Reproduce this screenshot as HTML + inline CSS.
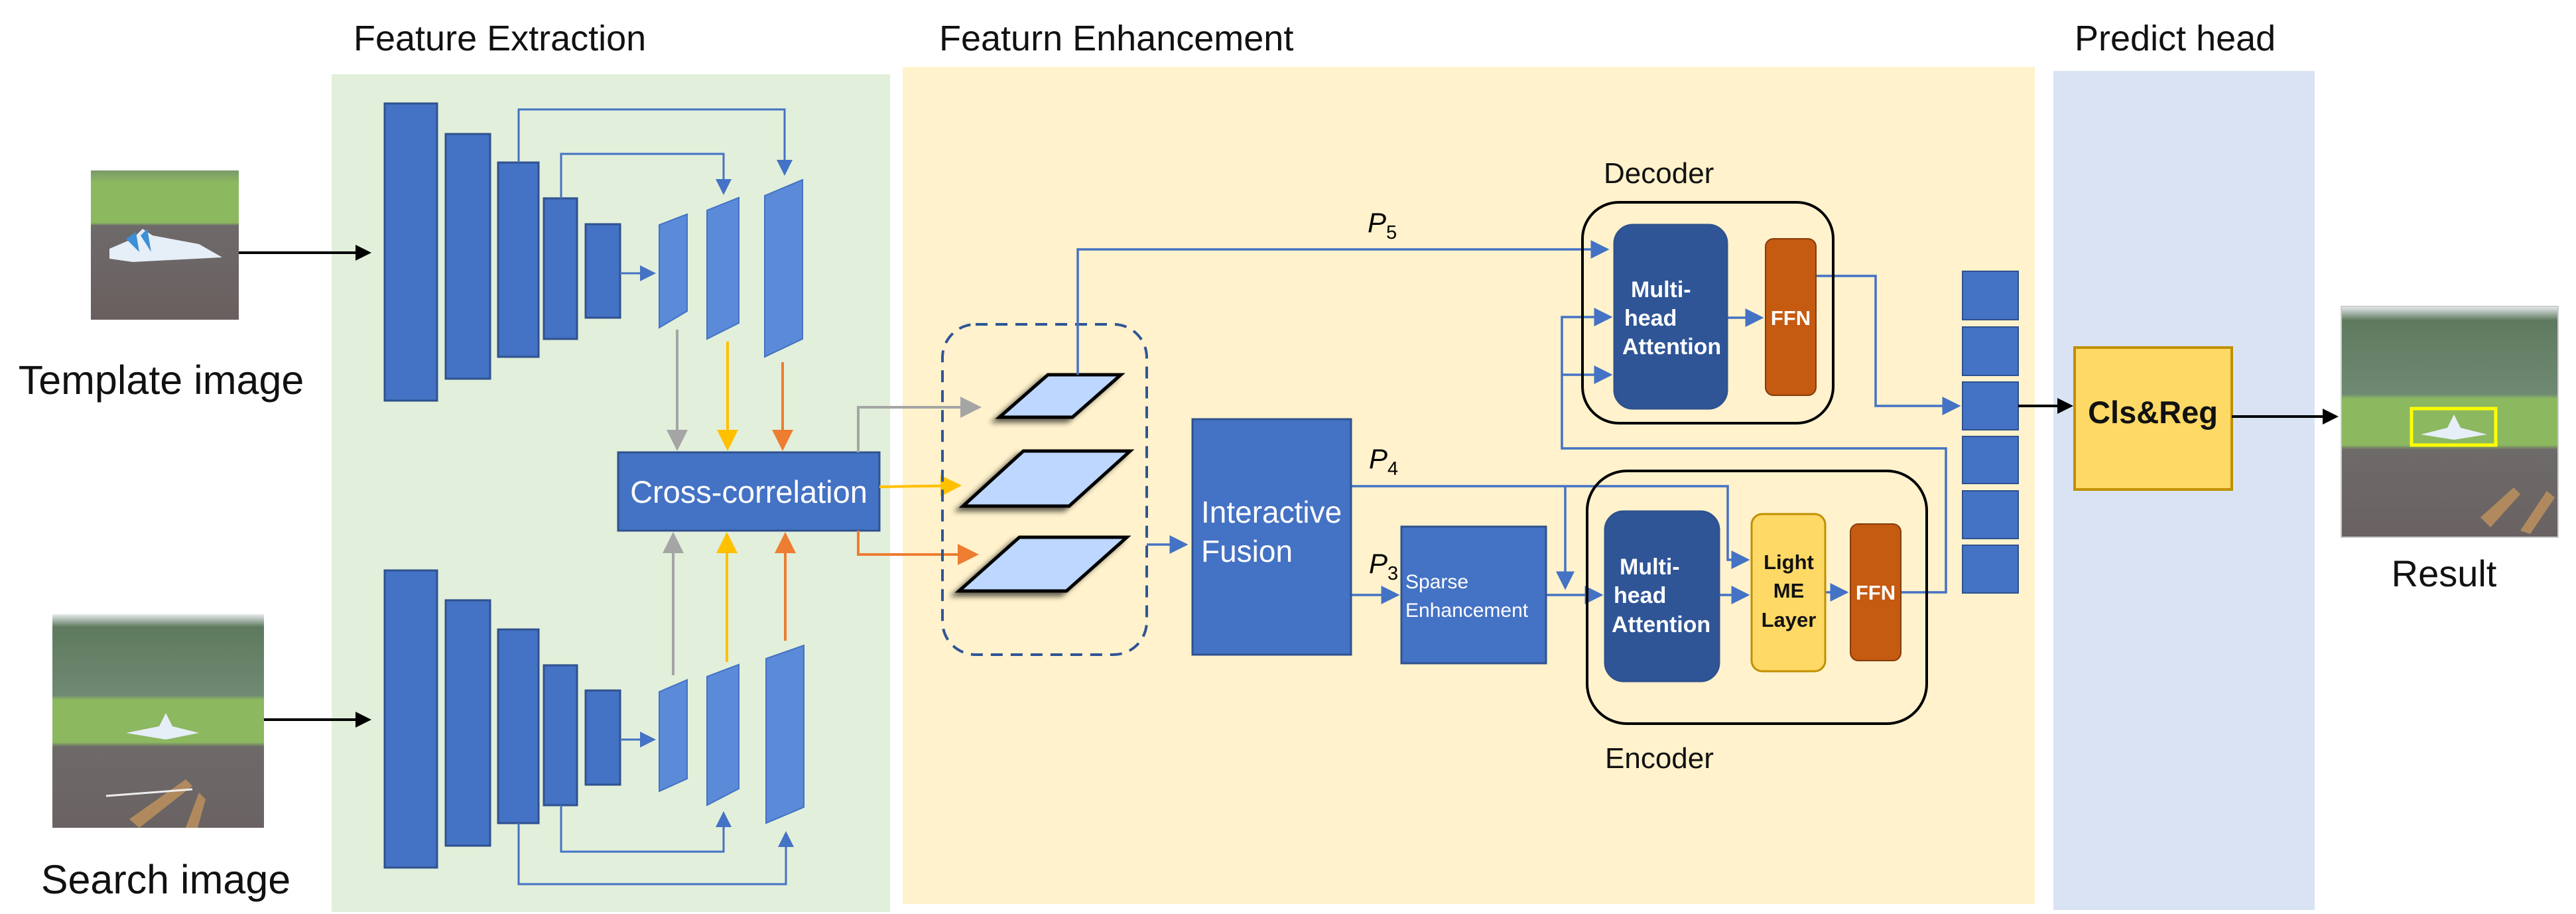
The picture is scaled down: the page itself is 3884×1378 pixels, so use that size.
<!DOCTYPE html>
<html><head><meta charset="utf-8"><style>
html,body{margin:0;padding:0;background:#fff}
svg{display:block}
text{font-family:"Liberation Sans",sans-serif}
</style></head><body>
<svg width="3884" height="1378" viewBox="0 0 3884 1378" xmlns="http://www.w3.org/2000/svg">
<defs>
<marker id="ab" markerWidth="8" markerHeight="8" refX="7" refY="4" orient="auto" markerUnits="strokeWidth"><path d="M0,0 L8,4 L0,8 z" fill="#4472c4"/></marker>
<marker id="ag" markerWidth="8" markerHeight="8" refX="7" refY="4" orient="auto" markerUnits="strokeWidth"><path d="M0,0 L8,4 L0,8 z" fill="#a5a5a5"/></marker>
<marker id="ay" markerWidth="8" markerHeight="8" refX="7" refY="4" orient="auto" markerUnits="strokeWidth"><path d="M0,0 L8,4 L0,8 z" fill="#ffc000"/></marker>
<marker id="ao" markerWidth="8" markerHeight="8" refX="7" refY="4" orient="auto" markerUnits="strokeWidth"><path d="M0,0 L8,4 L0,8 z" fill="#ed7d31"/></marker>
<marker id="ak" markerWidth="6" markerHeight="6" refX="5" refY="3" orient="auto" markerUnits="strokeWidth"><path d="M0,0 L6,3 L0,6 z" fill="#000"/></marker>
<filter id="sh" x="-30%" y="-30%" width="160%" height="160%"><feDropShadow dx="-8" dy="6" stdDeviation="4" flood-color="#000" flood-opacity="0.6"/></filter>
<linearGradient id="tpl" x1="0" y1="0" x2="0" y2="1"><stop offset="0" stop-color="#7a9a6a"/><stop offset="0.08" stop-color="#8cb860"/><stop offset="0.35" stop-color="#8cb860"/><stop offset="0.37" stop-color="#6e6a6a"/><stop offset="1" stop-color="#6a5f5f"/></linearGradient>
<linearGradient id="srch" x1="0" y1="0" x2="0" y2="1"><stop offset="0" stop-color="#e8ecef"/><stop offset="0.06" stop-color="#5e7a5e"/><stop offset="0.38" stop-color="#6f8a72"/><stop offset="0.4" stop-color="#8cb860"/><stop offset="0.6" stop-color="#8cb860"/><stop offset="0.62" stop-color="#6e6a6a"/><stop offset="1" stop-color="#6a6262"/></linearGradient>
</defs>

<rect x="500" y="112" width="842" height="1263" fill="#e2efda"/>
<rect x="1361" y="101" width="1707" height="1262" fill="#fff2cc"/>
<rect x="3096" y="107" width="394" height="1265" fill="#dae3f3"/>

<text x="533" y="76" font-size="54" fill="#111">Feature Extraction</text>
<text x="1416" y="76" font-size="54" fill="#111">Featurn Enhancement</text>
<text x="3128" y="76" font-size="54" fill="#111">Predict head</text>

<rect x="137" y="257" width="223" height="225" fill="url(#tpl)"/>
<path d="M165,375 L200,360 L215,345 L230,355 L300,368 L335,388 L200,395 L165,390z" fill="#e6eef8"/>
<path d="M190,360 L205,350 L210,380z M212,355 L222,345 L228,380z" fill="#3d8fd6"/>
<text x="243" y="594" font-size="61" fill="#111" text-anchor="middle">Template image</text>

<rect x="79" y="926" width="319" height="322" fill="url(#srch)"/>
<path d="M190,1105 L240,1095 L250,1075 L260,1095 L300,1105 L250,1115z" fill="#e6eef8"/>
<path d="M195,1235 L280,1175 L290,1185 L210,1248z M280,1248 L300,1195 L310,1205 L298,1248z" fill="#b08a5e"/>
<path d="M160,1200 L290,1190" stroke="#eee" stroke-width="3"/>
<text x="250" y="1347" font-size="61" fill="#111" text-anchor="middle">Search image</text>

<line x1="360" y1="381" x2="556" y2="381" stroke="#000" stroke-width="4" marker-end="url(#ak)"/>
<line x1="398" y1="1085" x2="556" y2="1085" stroke="#000" stroke-width="4" marker-end="url(#ak)"/>

<g fill="#4472c4" stroke="#2f528f" stroke-width="3">
<rect x="580" y="156" width="79" height="448"/>
<rect x="672" y="202" width="67" height="369"/>
<rect x="751" y="245" width="61" height="293"/>
<rect x="820" y="299" width="50" height="212"/>
<rect x="883" y="338" width="52" height="141"/>
<rect x="580" y="860" width="79" height="448"/>
<rect x="672" y="905" width="67" height="370"/>
<rect x="751" y="949" width="61" height="292"/>
<rect x="820" y="1003" width="50" height="211"/>
<rect x="883" y="1041" width="52" height="142"/>
</g>
<g fill="#5b8ad8" stroke="#4472c4" stroke-width="2">
<polygon points="994,339 1036,323 1036,469 994,494"/>
<polygon points="1066,317 1114,298 1114,487 1066,511"/>
<polygon points="1153,295 1210,271 1210,511 1153,538"/>
<polygon points="994,1043 1036,1025 1036,1174 994,1193"/>
<polygon points="1066,1020 1114,1002 1114,1189 1066,1214"/>
<polygon points="1155,993 1212,973 1212,1217 1155,1241"/>
</g>
<g fill="none" stroke="#4472c4" stroke-width="3">
<line x1="935" y1="412" x2="986" y2="412" marker-end="url(#ab)"/>
<line x1="935" y1="1115" x2="986" y2="1115" marker-end="url(#ab)"/>
<polyline points="782,245 782,165 1183,165 1183,262" marker-end="url(#ab)"/>
<polyline points="846,299 846,232 1091,232 1091,291" marker-end="url(#ab)"/>
<polyline points="846,1214 846,1284 1091,1284 1091,1226" marker-end="url(#ab)"/>
<polyline points="782,1241 782,1333 1185,1333 1185,1256" marker-end="url(#ab)"/>
</g>

<line x1="1021" y1="497" x2="1021" y2="676" stroke="#a5a5a5" stroke-width="4" marker-end="url(#ag)"/>
<line x1="1097" y1="515" x2="1097" y2="676" stroke="#ffc000" stroke-width="4" marker-end="url(#ay)"/>
<line x1="1180" y1="546" x2="1180" y2="676" stroke="#ed7d31" stroke-width="4" marker-end="url(#ao)"/>
<line x1="1015" y1="1018" x2="1015" y2="806" stroke="#a5a5a5" stroke-width="4" marker-end="url(#ag)"/>
<line x1="1096" y1="998" x2="1096" y2="806" stroke="#ffc000" stroke-width="4" marker-end="url(#ay)"/>
<line x1="1184" y1="966" x2="1184" y2="806" stroke="#ed7d31" stroke-width="4" marker-end="url(#ao)"/>

<rect x="932" y="682" width="394" height="118" fill="#4472c4" stroke="#2f528f" stroke-width="3"/>
<text x="1129" y="758" font-size="47" fill="#fff" text-anchor="middle">Cross-correlation</text>

<polyline points="1294,682 1294,614 1476,614" fill="none" stroke="#a5a5a5" stroke-width="4" marker-end="url(#ag)"/>
<line x1="1326" y1="734" x2="1446" y2="732" stroke="#ffc000" stroke-width="4" marker-end="url(#ay)"/>
<polyline points="1294,800 1294,836 1472,836" fill="none" stroke="#ed7d31" stroke-width="4" marker-end="url(#ao)"/>

<rect x="1421" y="489" width="308" height="498" rx="50" fill="none" stroke="#2f5597" stroke-width="4" stroke-dasharray="18,12"/>
<g fill="#bdd7ff" stroke="#000" stroke-width="5" filter="url(#sh)">
<polygon points="1507,629 1617,629 1690,565 1580,565"/>
<polygon points="1452,763 1612,763 1704,680 1543,680"/>
<polygon points="1446,891 1608,891 1699,810 1537,810"/>
</g>

<g fill="none" stroke="#4472c4" stroke-width="3.5">
<polyline points="1625,565 1625,376 2423,376" marker-end="url(#ab)"/>
<line x1="1729" y1="821" x2="1788" y2="821" marker-end="url(#ab)"/>
<polyline points="2037,733 2605,733 2605,844 2635,844" marker-end="url(#ab)"/>
<line x1="2360" y1="733" x2="2360" y2="886" marker-end="url(#ab)"/>
<line x1="2037" y1="897" x2="2107" y2="897" marker-end="url(#ab)"/>
<line x1="2331" y1="897" x2="2414" y2="897" marker-end="url(#ab)"/>
<line x1="2592" y1="897" x2="2635" y2="897" marker-end="url(#ab)"/>
<line x1="2752" y1="893" x2="2784" y2="893" marker-end="url(#ab)"/>
<polyline points="2866,893 2934,893 2934,676 2355,676 2355,478 2428,478" marker-end="url(#ab)"/>
<line x1="2355" y1="565" x2="2428" y2="565" marker-end="url(#ab)"/>
<line x1="2604" y1="479" x2="2656" y2="479" marker-end="url(#ab)"/>
<polyline points="2738,416 2828,416 2828,612 2953,612" marker-end="url(#ab)"/>
</g>

<text x="2062" y="350" font-size="42" font-style="italic" font-family="Liberation Serif,serif">P<tspan font-size="29" dy="10" font-style="normal">5</tspan></text>
<text x="2064" y="706" font-size="42" font-style="italic" font-family="Liberation Serif,serif">P<tspan font-size="29" dy="10" font-style="normal">4</tspan></text>
<text x="2064" y="864" font-size="42" font-style="italic" font-family="Liberation Serif,serif">P<tspan font-size="29" dy="10" font-style="normal">3</tspan></text>

<rect x="1798" y="632" width="239" height="355" fill="#4472c4" stroke="#2f528f" stroke-width="3"/>
<text x="1811" y="788" font-size="46" fill="#fff">Interactive</text>
<text x="1811" y="847" font-size="46" fill="#fff">Fusion</text>

<rect x="2113" y="794" width="218" height="206" fill="#4472c4" stroke="#2f528f" stroke-width="3"/>
<text x="2119" y="887" font-size="30" fill="#fff">Sparse</text>
<text x="2119" y="930" font-size="30" fill="#fff">Enhancement</text>

<text x="2418" y="276" font-size="44" fill="#111">Decoder</text>
<rect x="2386" y="305" width="378" height="333" rx="55" fill="none" stroke="#000" stroke-width="4"/>
<rect x="2434" y="339" width="170" height="277" rx="28" fill="#2f5597" stroke="#2f528f" stroke-width="3"/>
<g font-weight="bold" font-size="34" fill="#fff">
<text x="2459" y="448">Multi-</text><text x="2449" y="491">head</text><text x="2446" y="534">Attention</text>
</g>
<rect x="2662" y="360" width="76" height="236" rx="12" fill="#c55a11" stroke="#843c0c" stroke-width="2"/>
<text x="2700" y="490" font-size="31" font-weight="bold" fill="#fff" text-anchor="middle">FFN</text>

<rect x="2393" y="710" width="512" height="381" rx="60" fill="none" stroke="#000" stroke-width="4"/>
<text x="2420" y="1158" font-size="44" fill="#111">Encoder</text>
<rect x="2420" y="771" width="172" height="256" rx="28" fill="#2f5597" stroke="#2f528f" stroke-width="3"/>
<g font-weight="bold" font-size="34" fill="#fff">
<text x="2442" y="866">Multi-</text><text x="2433" y="909">head</text><text x="2430" y="953">Attention</text>
</g>
<rect x="2641" y="775" width="111" height="237" rx="16" fill="#ffd966" stroke="#bf9000" stroke-width="3"/>
<g font-weight="bold" font-size="31" fill="#111" text-anchor="middle">
<text x="2697" y="858">Light</text><text x="2697" y="901">ME</text><text x="2697" y="945">Layer</text>
</g>
<rect x="2790" y="790" width="76" height="206" rx="12" fill="#c55a11" stroke="#843c0c" stroke-width="2"/>
<text x="2828" y="904" font-size="31" font-weight="bold" fill="#fff" text-anchor="middle">FFN</text>

<g fill="#4472c4" stroke="#2f528f" stroke-width="2">
<rect x="2959" y="409" width="84" height="73"/>
<rect x="2959" y="493" width="84" height="73"/>
<rect x="2959" y="576" width="84" height="72"/>
<rect x="2959" y="658" width="84" height="71"/>
<rect x="2959" y="740" width="84" height="72"/>
<rect x="2959" y="822" width="84" height="72"/>
</g>
<line x1="3043" y1="612" x2="3122" y2="612" stroke="#000" stroke-width="4" marker-end="url(#ak)"/>

<rect x="3128" y="524" width="237" height="214" fill="#ffd966" stroke="#bf9000" stroke-width="4"/>
<text x="3246" y="638" font-size="47" font-weight="bold" fill="#111" text-anchor="middle">Cls&amp;Reg</text>
<line x1="3365" y1="628" x2="3522" y2="628" stroke="#000" stroke-width="4" marker-end="url(#ak)"/>

<rect x="3530" y="462" width="327" height="348" fill="url(#srch)" stroke="#ccc" stroke-width="2"/>
<path d="M3650,655 L3690,645 L3700,625 L3710,645 L3750,655 L3700,663z" fill="#e6eef8"/>
<rect x="3636" y="616" width="127" height="55" fill="none" stroke="#ffff00" stroke-width="5"/>
<path d="M3740,780 L3790,735 L3800,745 L3755,795z M3800,800 L3840,740 L3852,750 L3815,805z" fill="#b08a5e"/>
<text x="3685" y="884" font-size="56" fill="#111" text-anchor="middle">Result</text>
</svg>
</body></html>
